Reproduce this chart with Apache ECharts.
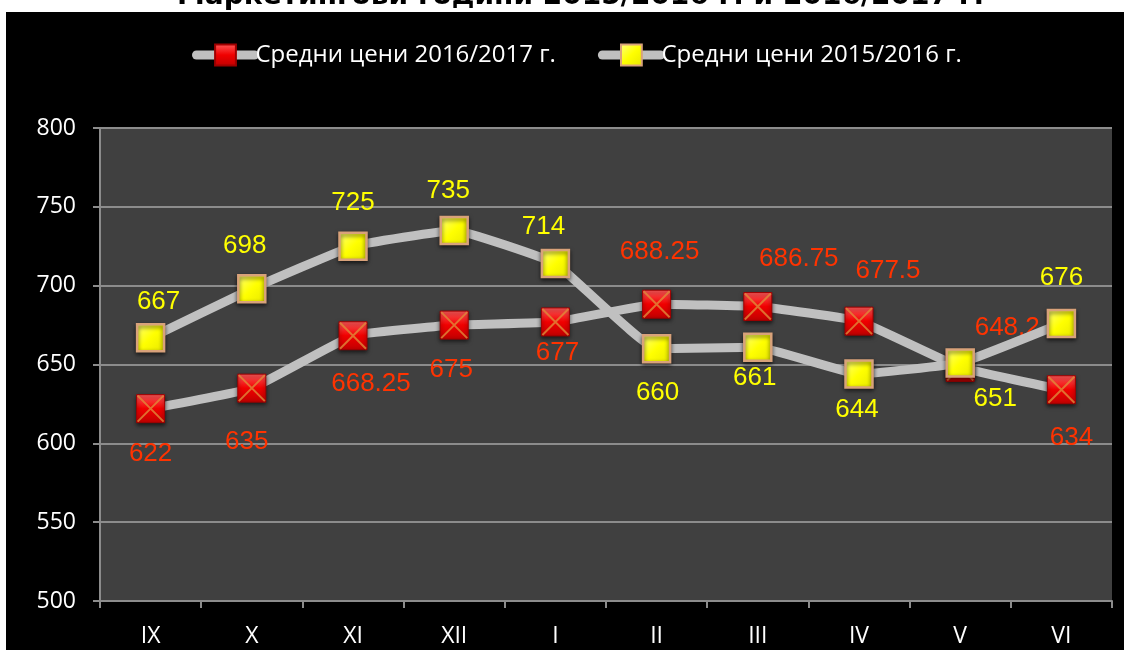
<!DOCTYPE html>
<html>
<head>
<meta charset="utf-8">
<script src="https://cdn.jsdelivr.net/npm/echarts@6/dist/echarts.min.js"></script>
<style>
  html, body { margin: 0; padding: 0; background: #fff; }
  #chart { width: 1124px; height: 650px; }
</style>
</head>
<body>
<div id="chart"></div>
<script>
// months of the marketing year
const months = ['IX', 'X', 'XI', 'XII', 'I', 'II', 'III', 'IV', 'V', 'VI'];
// average prices
const prices1617 = [622, 635, 668.25, 675, 677, 688.25, 686.75, 677.5, 648.2, 634];
const prices1516 = [667, 698, 725, 735, 714, 660, 661, 644, 651, 676];
const name1617 = 'Средни цени 2016/2017 г.';
const name1516 = 'Средни цени 2015/2016 г.';

// label offsets (px) relative to each point, like the Excel layout
const off1617 = [[0, 45], [-5, 54], [18, 48], [-3, 45], [2, 31], [3, -52], [41, -48], [29, -50], [47, -40], [10, 48]];
const off1516 = [[8, -36], [-7, -43], [0, -43], [-6, -40], [-12, -37], [1, 44], [-3, 31], [-2, 36], [35, 36], [0, -46]];

const chart = echarts.init(document.getElementById('chart'));

const withLabels = (vals, offs, color) => vals.map((v, i) => ({
  value: v,
  label: { show: true, position: 'inside', offset: offs[i], color: color }
}));

const redFill = new echarts.graphic.LinearGradient(0, 0, 0, 1, [
  { offset: 0, color: '#ff5a5a' },
  { offset: 0.5, color: '#f00000' },
  { offset: 1, color: '#c00000' }
]);
const yellowFill = new echarts.graphic.LinearGradient(0, 0, 1, 1, [
  { offset: 0, color: '#ffff80' },
  { offset: 0.5, color: '#ffff00' },
  { offset: 1, color: '#e6e600' }
]);

const option = {
  backgroundColor: '#fff',
  animation: false,
  graphic: [{
    type: 'rect', z: -10, silent: true,
    shape: { x: 6, y: 12, width: 1124, height: 650 },
    style: { fill: '#000' }
  }],
  title: {
    text: 'Маркетингови години 2015/2016 г. и 2016/2017 г.',
    left: 172,
    top: -22,
    textStyle: { color: '#000', fontSize: 28, fontWeight: 'bold', fontFamily: 'DejaVu Sans' }
  },
  legend: {
    top: 38,
    left: 187,
    itemGap: 42,
    itemWidth: 58,
    itemHeight: 26,
    data: [name1617, name1516],
    lineStyle: { width: 9, color: '#c0c0c0', cap: 'round' },
    textStyle: { color: '#fff', fontSize: 24, fontFamily: 'Open Sans', padding: [0, 0, 0, -4] }
  },
  grid: { left: 100, right: 12, top: 128, bottom: 49 },
  xAxis: {
    type: 'category',
    data: months,
    boundaryGap: true,
    axisLine: { lineStyle: { color: '#8c8c8c', width: 2 } },
    axisTick: { show: true, length: 7, lineStyle: { color: '#8c8c8c', width: 2 } },
    axisLabel: { color: '#fff', fontSize: 23, fontFamily: 'Open Sans', margin: 24 },
    splitLine: { show: false }
  },
  yAxis: {
    type: 'value',
    min: 500,
    max: 800,
    interval: 50,
    axisLine: { show: true, lineStyle: { color: '#8c8c8c', width: 2 } },
    axisTick: { show: true, length: 7, lineStyle: { color: '#8c8c8c', width: 2 } },
    axisLabel: { color: '#fff', fontSize: 23, fontFamily: 'Open Sans', margin: 24 },
    splitLine: { lineStyle: { color: '#8c8c8c', width: 2 } },
    splitArea: { show: true, areaStyle: { color: ['#404040', '#404040'] } }
  },
  series: [
    {
      name: name1617,
      type: 'line',
      smooth: 0.1,
      data: withLabels(prices1617, off1617, '#ff3300'),
      symbol: 'rect',
      symbolSize: 28,
      z: 2,
      lineStyle: { color: '#c0c0c0', width: 9 },
      itemStyle: {
        color: redFill, borderColor: '#a00000', borderWidth: 1,
        shadowColor: 'rgba(0,0,0,0.6)', shadowBlur: 4, shadowOffsetY: 2
      },
      label: { fontSize: 26, fontFamily: 'Liberation Sans' }
    },
    {
      // the X drawn on the red markers
      name: 'x-marks',
      type: 'scatter',
      data: prices1617,
      symbol: 'path://M0,0L10,10M10,0L0,10',
      symbolSize: 26,
      silent: true,
      z: 3,
      itemStyle: { color: 'rgba(0,0,0,0)', borderColor: '#e08a3a', borderWidth: 2 }
    },
    {
      name: name1516,
      type: 'line',
      smooth: 0.1,
      data: withLabels(prices1516, off1516, '#ffff00'),
      symbol: 'rect',
      symbolSize: 27,
      z: 4,
      lineStyle: { color: '#c0c0c0', width: 9 },
      itemStyle: {
        color: yellowFill, borderColor: '#d9a27a', borderWidth: 2.5,
        shadowColor: 'rgba(0,0,0,0.6)', shadowBlur: 4, shadowOffsetY: 2
      },
      label: { fontSize: 26, fontFamily: 'Liberation Sans' }
    }
  ]
};

chart.setOption(option);
window.addEventListener('resize', () => chart.resize());
</script>
</body>
</html>
